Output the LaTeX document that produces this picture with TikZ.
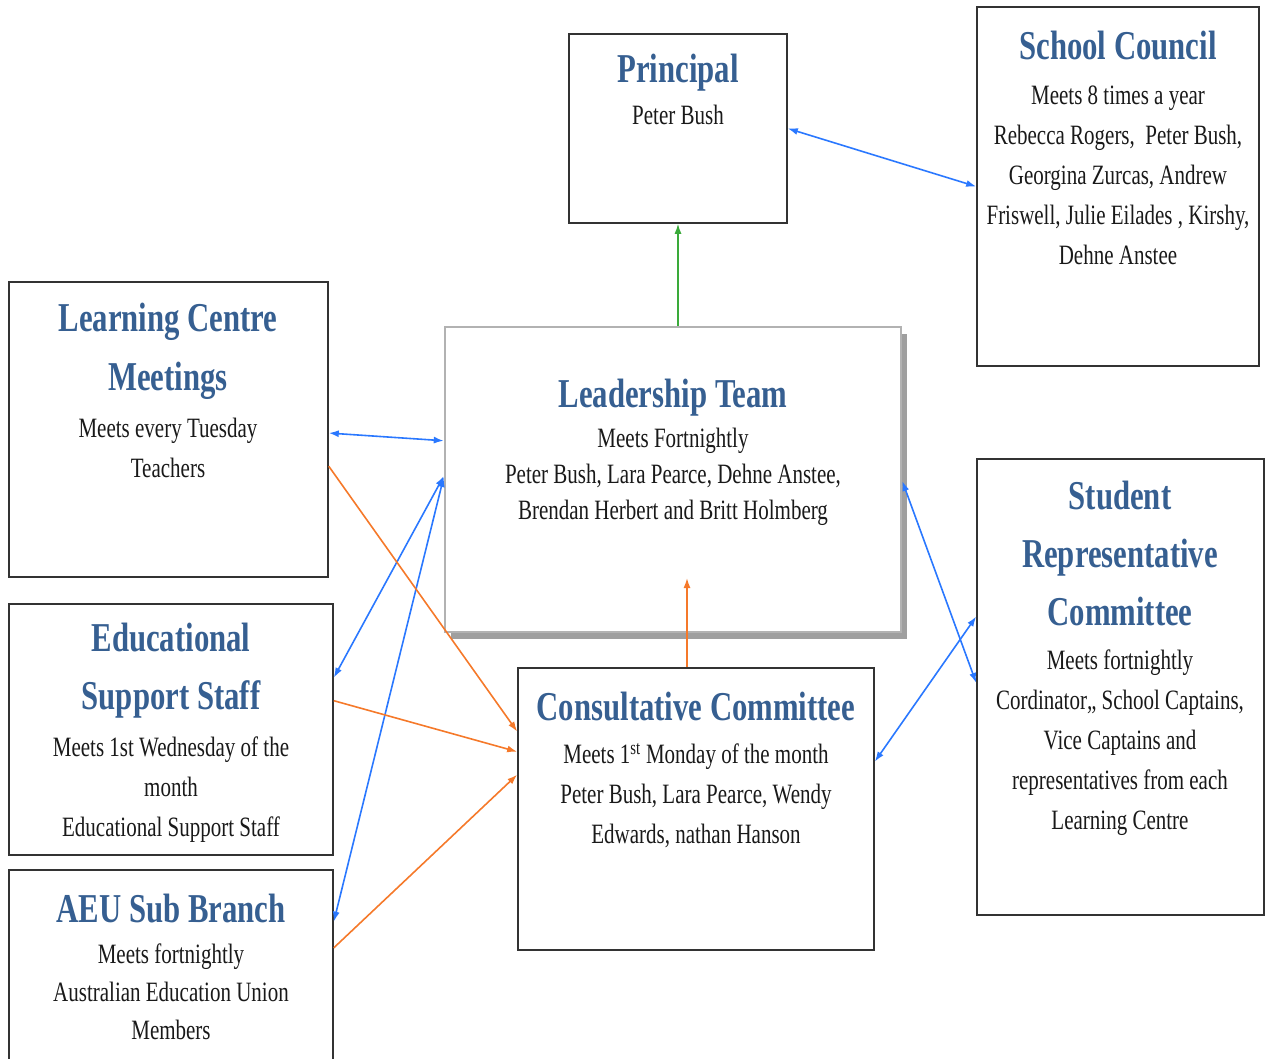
\documentclass[tikz,border=0pt]{standalone}
\usepackage{fontspec}
\setmainfont{Liberation Serif}[FakeStretch=0.75]
\usepackage{xcolor}
\usetikzlibrary{arrows.meta, calc, shadows}

\definecolor{headblue}{HTML}{365F91}
\definecolor{linkblue}{HTML}{2A78FF}
\definecolor{linkorange}{HTML}{F5792A}
\definecolor{linkgreen}{HTML}{3AAA3A}

\begin{document}
\begin{tikzpicture}[x=1pt, y=-1pt,
    >={Latex[length=10pt,width=7pt]},
    box/.style={draw=black!80, line width=1.6pt, inner sep=0pt},
    leadbox/.style={draw=gray!60, line width=2.5pt, fill=white, inner sep=0pt,
        drop shadow={shadow xshift=6pt, shadow yshift=-7pt, fill=gray!75, opacity=1}},
    head/.style={text=headblue, font=\bfseries\fontsize{41}{58}\selectfont, align=center},
    body/.style={text=black!90, font=\fontsize{28}{40}\selectfont, align=center},
    blueline/.style={draw=linkblue, line width=1.6pt},
    orangeline/.style={draw=linkorange, line width=1.6pt},
    greenline/.style={draw=linkgreen, line width=1.3pt}]
\useasboundingbox (0,0) rectangle (1267,1059);
\clip (0,0) rectangle (1267,1059);

% Principal
\node[box, minimum width=218pt, minimum height=189pt] (pr) at (678,128.5) {};
\node[head] (prhead) at (678,73) {Principal};
\node[body] (prbody) at (678,115) {Peter Bush};

% School Council
\node[box, minimum width=282pt, minimum height=359pt] (sc) at (1118,186.5) {};
\node[head] (schead) at (1118,46) {School Council};
\node[body] (scbody) at (1118,175) {Meets 8 times a year\\Rebecca Rogers,~ Peter Bush,\\Georgina Zurcas, Andrew\\Friswell, Julie Eilades , Kirshy,\\Dehne Anstee};

% Learning Centre Meetings
\node[box, minimum width=319pt, minimum height=295pt] (lc) at (168.5,429.5) {};
\node[head, font=\bfseries\fontsize{41}{59}\selectfont] (lchead) at (168,351) {Learning Centre\\Meetings};
\node[body] (lcbody) at (168,448) {Meets every Tuesday\\Teachers};

% Leadership Team
\node[leadbox, minimum width=456pt, minimum height=305pt] (lt) at (673,479.5) {};
\node[head] (lthead) at (673,398) {Leadership Team};
\node[body, font=\fontsize{28}{36}\selectfont] (ltbody) at (673,477) {Meets Fortnightly\\Peter Bush, Lara Pearce, Dehne Anstee,\\Brendan Herbert and Britt Holmberg};

% Educational Support Staff
\node[box, minimum width=324pt, minimum height=251pt] (es) at (171,729.5) {};
\node[head] (eshead) at (171,671) {Educational\\Support Staff};
\node[body] (esbody) at (171,790) {Meets 1st Wednesday of the\\month\\Educational Support Staff};

% AEU Sub Branch (runs off the page)
\node[box, minimum width=324pt, minimum height=200pt] (aeu) at (171,970) {};
\node[head] (aeuhead) at (171,909) {AEU Sub Branch};
\node[body, font=\fontsize{28}{38}\selectfont] (aeubody) at (171,992) {Meets fortnightly\\Australian Education Union\\Members};

% Consultative Committee
\node[box, minimum width=356pt, minimum height=282pt] (cc) at (696,809) {};
\node[head] (cchead) at (696,707) {Consultative Committee};
\node[body] (ccbody) at (696,796) {Meets 1\textsuperscript{st} Monday of the month\\Peter Bush, Lara Pearce, Wendy\\Edwards, nathan Hanson};

% Student Representative Committee
\node[box, minimum width=287pt, minimum height=456pt] (src) at (1120.5,687) {};
\node[head, font=\bfseries\fontsize{41}{58}\selectfont] (srchead) at (1120,553) {Student\\Representative\\Committee};
\node[body] (srcbody) at (1120,743) {Meets fortnightly\\Cordinator,, School Captains,\\Vice Captains and\\representatives from each\\Learning Centre};

% links
\coordinate (cctip) at (687,578);
\draw[greenline, ->] (lt.north -| pr) -- (pr.south);
\draw[blueline, <->] (pr.east) -- (sc.west);
\draw[blueline, <->] ($(lc.north east)!0.512!(lc.south east)$) -- ($(lt.north west)!0.374!(lt.south west)$);
\draw[blueline, <->] ($(lt.north west)!0.489!(lt.south west)$) -- ($(es.north east)!0.295!(es.south east)$);
\draw[blueline, <->] ($(lt.north west)!0.492!(lt.south west)$) -- ($(aeu.north east)!0.26!(aeu.south east)$);
\draw[blueline, <->] ($(lt.north east)!0.505!(lt.south east)$) -- ($(src.north west)!0.491!(src.south west)$);
\draw[blueline, <->] ($(src.north west)!0.346!(src.south west)$) -- ($(cc.north east)!0.333!(cc.south east)$);
\draw[orangeline, ->] ($(lc.north east)!0.624!(lc.south east)$) -- ($(cc.north west)!0.227!(cc.south west)$);
\draw[orangeline, ->] ($(es.north east)!0.386!(es.south east)$) -- ($(cc.north west)!0.298!(cc.south west)$);
\draw[orangeline, ->] ($(aeu.north east)!0.39!(aeu.south east)$) -- ($(cc.north west)!0.379!(cc.south west)$);
\draw[orangeline, ->] (cc.north -| cctip) -- (cctip);
\end{tikzpicture}
\end{document}
